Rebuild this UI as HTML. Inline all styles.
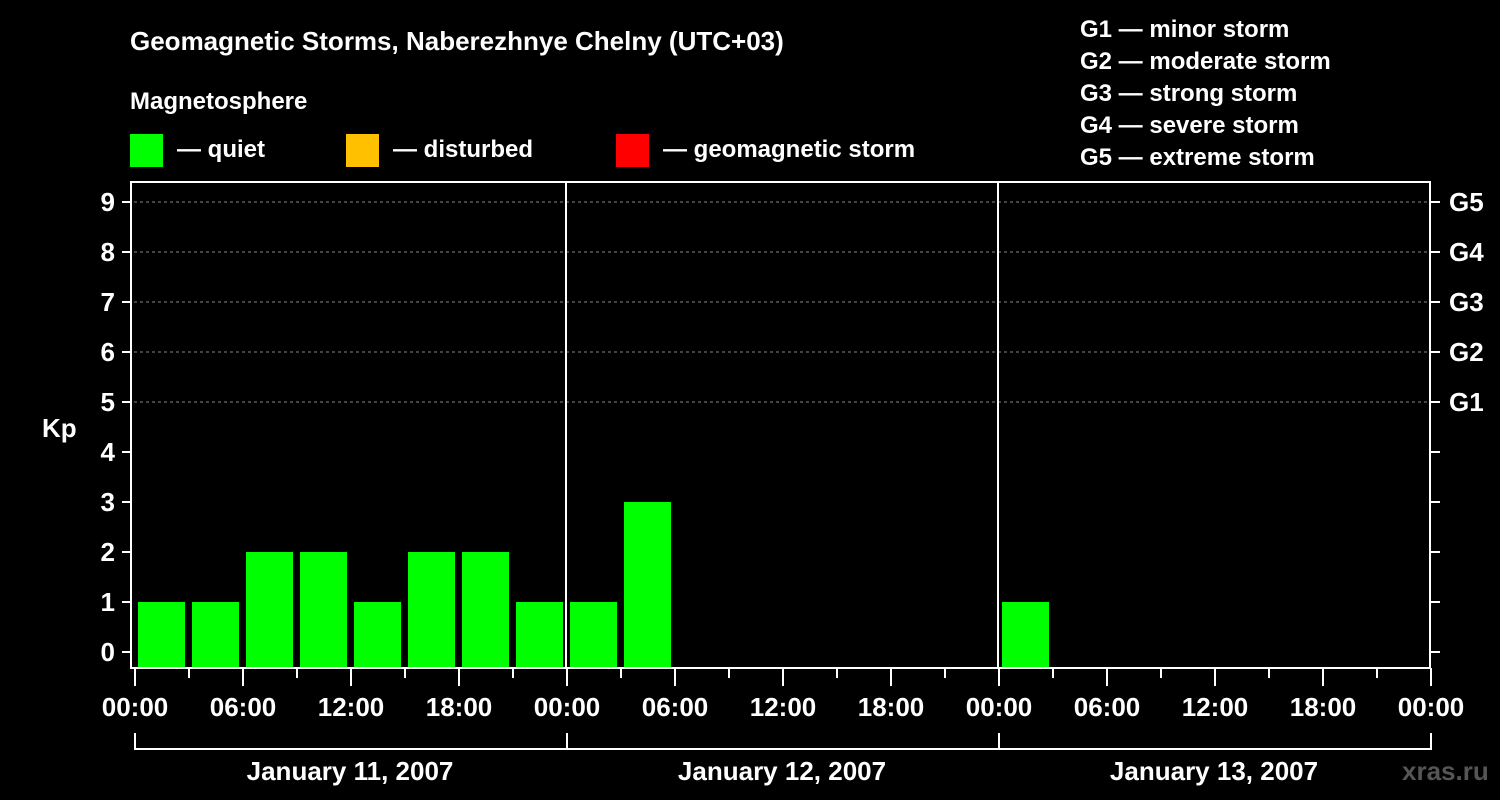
<!DOCTYPE html>
<html><head><meta charset="utf-8"><style>
body{margin:0;background:#000;}
svg{display:block;font-family:"Liberation Sans",Arial,sans-serif;font-weight:bold;}
</style></head><body>
<svg id="c" width="1500" height="800" viewBox="0 0 1500 800">
<rect width="1500" height="800" fill="#000"/>
<text x="130" y="50" fill="#fff" font-size="26">Geomagnetic Storms, Naberezhnye Chelny (UTC+03)</text>
<text x="130" y="109" fill="#fff" font-size="24">Magnetosphere</text>
<g><rect x="130" y="134" width="33" height="33" fill="#00ff00"/><text x="177" y="157" fill="#fff" font-size="24">— quiet</text></g>
<g><rect x="346" y="134" width="33" height="33" fill="#ffc000"/><text x="393" y="157" fill="#fff" font-size="24">— disturbed</text></g>
<g><rect x="616" y="134" width="33" height="33" fill="#ff0000"/><text x="663" y="157" fill="#fff" font-size="24">— geomagnetic storm</text></g>
<g fill="#fff" font-size="24">
<text x="1080" y="37">G1 — minor storm</text>
<text x="1080" y="69">G2 — moderate storm</text>
<text x="1080" y="101">G3 — strong storm</text>
<text x="1080" y="133">G4 — severe storm</text>
<text x="1080" y="165">G5 — extreme storm</text>
</g>
<text x="42" y="437" fill="#fff" font-size="26">Kp</text>
<text x="1402" y="780" fill="#555" font-size="26">xras.ru</text>
<g id="plot"></g>
</svg>
<script>
const kpValues=[1,1,2,2,1,2,2,1,1,3,null,null,null,null,null,null,1];
const yTicks=[0,1,2,3,4,5,6,7,8,9];
const gLabels=["G1","G2","G3","G4","G5"];
const gLevels=[5,6,7,8,9];
const timeLabels=["00:00","06:00","12:00","18:00"];
const dayLabels=["January 11, 2007","January 12, 2007","January 13, 2007"];
const X0=134,X1=1430,YT=182,YB=668;
const nSlots=24;
const xs=i=>X0+(X1-X0)*i/nSlots;
const ys=v=>652-50*v;
const NS="http://www.w3.org/2000/svg";
const p=document.getElementById('plot');
function mk(t,a){const e=document.createElementNS(NS,t);for(const k in a)e.setAttribute(k,a[k]);p.appendChild(e);return e;}
// grid
gLevels.forEach(v=>{const l=mk('line',{x1:X0,x2:X1,y1:ys(v),y2:ys(v),stroke:'#888','stroke-dasharray':'3,3','stroke-width':1});

});
// bars
kpValues.forEach((v,i)=>{if(v===null)return;const r=mk('rect',{x:xs(i)+4,y:ys(v),width:xs(i+1)-xs(i)-7,height:YB-ys(v),fill:'#00ff00'});

});
// frame
const fr=mk('rect',{x:X0-3,y:YT,width:X1-X0+3,height:YB-YT,fill:'none',stroke:'#fff','stroke-width':2});


for(let d=1;d<3;d++){const l=mk('line',{x1:xs(d*8),x2:xs(d*8),y1:YT,y2:YB,stroke:'#fff','stroke-width':2});

}
// y ticks
yTicks.forEach(v=>{mk('line',{x1:122,x2:X0-3,y1:ys(v),y2:ys(v),stroke:'#fff','stroke-width':2});
mk('line',{x1:X1,x2:X1+10,y1:ys(v),y2:ys(v),stroke:'#fff','stroke-width':2});
const t=mk('text',{x:115,y:ys(v)+9,fill:'#fff','font-size':26,'text-anchor':'end'});t.textContent=v;

});
gLabels.forEach((g,i)=>{const t=mk('text',{x:1449,y:ys(gLevels[i])+9,fill:'#fff','font-size':26});t.textContent=g;

});
// x ticks
for(let i=0;i<=nSlots;i++){const major=i%2===0;mk('line',{x1:xs(i)+1,x2:xs(i)+1,y1:YB,y2:major?686:678,stroke:'#fff','stroke-width':2});
if(major){const t=mk('text',{x:xs(i)+1,y:716,fill:'#fff','font-size':26,'text-anchor':'middle'});t.textContent=timeLabels[(i/2)%4];

}}
// day brackets
mk('line',{x1:xs(0)+1,x2:xs(24)+1,y1:749,y2:749,stroke:'#fff','stroke-width':2});
for(let d=0;d<=3;d++)mk('line',{x1:xs(d*8)+1,x2:xs(d*8)+1,y1:733,y2:750,stroke:'#fff','stroke-width':2});
dayLabels.forEach((s,d)=>{const t=mk('text',{x:(xs(d*8)+xs(d*8+8))/2,y:780,fill:'#fff','font-size':26,'text-anchor':'middle'});t.textContent=s;

});
</script>
</body></html>
